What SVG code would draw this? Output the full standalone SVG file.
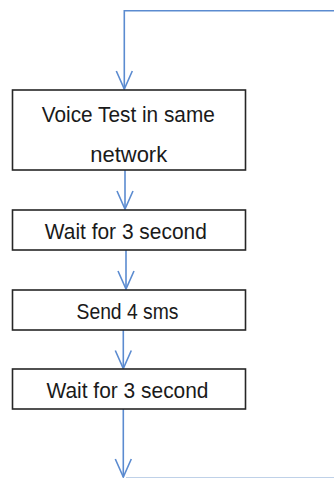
<svg xmlns="http://www.w3.org/2000/svg" width="334" height="478" viewBox="0 0 334 478">
  <defs>
    <style>
      .box { fill: #ffffff; stroke: #262626; stroke-width: 1.6; }
      .label { font-family: "Liberation Sans", Arial, sans-serif; font-size: 22.5px; fill: #1a1a1a; text-anchor: middle; }
      .flow { fill: none; stroke: #5b8bd0; stroke-width: 1.6; }
    </style>
    <marker id="chevron" markerUnits="userSpaceOnUse" markerWidth="40" markerHeight="40" refX="0" refY="0" orient="auto" overflow="visible">
      <path d="M-18,-8 L0,0 L-18,8" fill="none" stroke="#5b8bd0" stroke-width="1.6"/>
    </marker>
  </defs>

  <!-- connectors -->
  <g id="connectors">
    <path class="flow" d="M334,10.8 H124.3 V89" marker-end="url(#chevron)"/>
    <path class="flow" d="M125,170 V209" marker-end="url(#chevron)"/>
    <path class="flow" d="M126,250 V289" marker-end="url(#chevron)"/>
    <path class="flow" d="M123.3,330 V368.5" marker-end="url(#chevron)"/>
    <path class="flow" d="M123.3,409 V477" marker-end="url(#chevron)"/>
    <line x1="126" y1="477.6" x2="334" y2="477.6" stroke="#b9cde6" stroke-width="1"/>
  </g>

  <!-- process steps -->
  <g id="voice-test">
    <rect class="box" x="12.5" y="90" width="233" height="80"/>
    <text class="label" x="128.3" y="122" textLength="173" lengthAdjust="spacingAndGlyphs">Voice Test in same</text>
    <text class="label" x="128.7" y="161.8" textLength="77" lengthAdjust="spacingAndGlyphs">network</text>
  </g>
  <g id="wait-1">
    <rect class="box" x="12.5" y="210" width="233" height="40"/>
    <text class="label" x="125.8" y="238.8" textLength="162" lengthAdjust="spacingAndGlyphs">Wait for 3 second</text>
  </g>
  <g id="send-sms">
    <rect class="box" x="12.5" y="290" width="233" height="40"/>
    <text class="label" x="127.5" y="318.5" textLength="102" lengthAdjust="spacingAndGlyphs">Send 4 sms</text>
  </g>
  <g id="wait-2">
    <rect class="box" x="12.5" y="369" width="233" height="40"/>
    <text class="label" x="127.5" y="398" textLength="162" lengthAdjust="spacingAndGlyphs">Wait for 3 second</text>
  </g>
</svg>
